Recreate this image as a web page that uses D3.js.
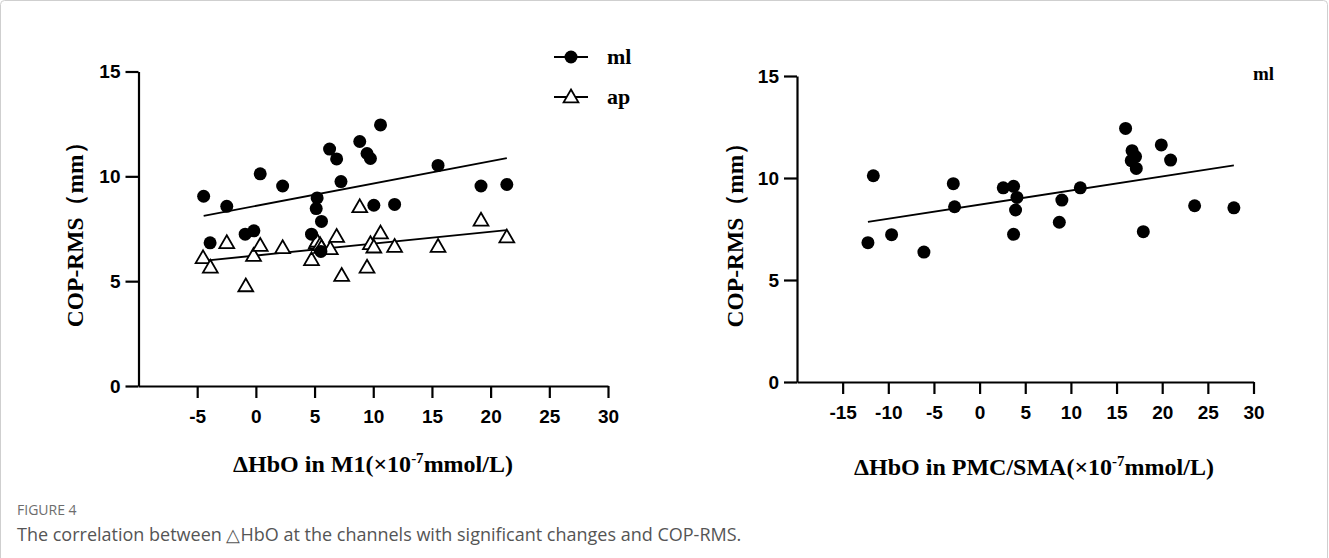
<!doctype html>
<html>
<head>
<meta charset="utf-8">
<style>
  body { margin: 0; background: #fff; }
  svg text { fill: #000; }
</style>
</head>
<body>
<svg id="fig" width="1329" height="558"></svg>
<script src="https://cdn.jsdelivr.net/npm/d3@7"></script>
<script>
// left panel: M1, ml (filled circles) and ap (open triangles)
const m1X  = [-4.45, -3.9, -2.48, -0.91, -0.17, 0.37, 2.28, 4.74, 5.14, 5.22, 5.54, 5.59,
              6.28, 6.88, 7.25, 8.85, 9.47, 9.76, 10.05, 10.62, 11.82, 15.52, 19.18, 21.38];
const m1Ml = [9.05, 6.83, 8.57, 7.24, 7.4, 10.12, 9.54, 7.24, 8.46, 8.97, 6.42, 7.85,
              11.3, 10.83, 9.75, 11.66, 11.09, 10.85, 8.62, 12.45, 8.66, 10.52, 9.54, 9.61];
const m1ApX = [-4.5, -3.88, -2.48, -0.86, -0.2, 0.37, 2.28, 4.74, 5.14, 5.22, 5.48, 5.59,
               6.34, 6.88, 7.31, 8.85, 9.47, 9.76, 10.05, 10.62, 11.82, 15.52, 19.18, 21.38];
const m1Ap = [6.11, 5.66, 6.83, 4.77, 6.22, 6.7, 6.59, 6.02, 6.81, 6.9, 6.73, 6.6,
              6.54, 7.13, 5.27, 8.54, 5.66, 6.78, 6.62, 7.29, 6.65, 6.65, 7.9, 7.1];

// right panel: PMC/SMA, ml only
const pmcX  = [-12.23, -11.64, -9.64, -6.1, -2.88, -2.74, 2.59, 3.72, 4.09, 3.94, 3.72, 8.73,
               9.01, 11.03, 15.99, 16.7, 17.08, 16.61, 17.16, 19.9, 20.92, 23.55, 27.85, 17.93];
const pmcMl = [6.83, 10.11, 7.22, 6.37, 9.72, 8.59, 9.52, 9.59, 9.05, 8.43, 7.24, 7.83,
               8.92, 9.52, 12.43, 11.34, 11.05, 10.85, 10.47, 11.62, 10.88, 8.64, 8.54, 7.37];

const m1Ticks  = [-5, 0, 5, 10, 15, 20, 25, 30];
const pmcTicks = [-15, -10, -5, 0, 5, 10, 15, 20, 25, 30];
const yTicks   = [0, 5, 10, 15];

const svg = d3.select("#fig");

// page frame
svg.append("rect")
  .attr("x", 0.5).attr("y", 0.5)
  .attr("width", 1327).attr("height", 620)
  .attr("rx", 4)
  .attr("fill", "none")
  .attr("stroke", "#cfcfcf");

const tickFont = "'Liberation Sans', Arial, sans-serif";
const serif = "'Liberation Serif', 'Times New Roman', serif";

// least squares fit, drawn over the x range of the data
function fit(xs, ys) {
  const mx = d3.mean(xs), my = d3.mean(ys);
  let sxy = 0, sxx = 0;
  xs.forEach((x, i) => { sxy += (x - mx) * (ys[i] - my); sxx += (x - mx) * (x - mx); });
  const b = sxy / sxx;
  const a = my - b * mx;
  const x0 = d3.min(xs), x1 = d3.max(xs);
  return [[x0, a + b * x0], [x1, a + b * x1]];
}

function panel(opt) {
  const x = d3.scaleLinear().domain(opt.xDomain).range(opt.xRange);
  const y = d3.scaleLinear().domain([0, 15]).range(opt.yRange);
  const g = svg.append("g");

  const xa = g.append("g")
    .attr("transform", "translate(0," + opt.yRange[0] + ")")
    .call(d3.axisBottom(x).tickValues(opt.xTicks).tickFormat(d => String(d))
      .tickSize(12).tickPadding(12).tickSizeOuter(0));
  const ya = g.append("g")
    .attr("transform", "translate(" + opt.xRange[0] + ",0)")
    .call(d3.axisLeft(y).tickValues(yTicks).tickFormat(d => String(d))
      .tickSize(13).tickPadding(5).tickSizeOuter(0));

  [xa, ya].forEach(a => {
    a.selectAll("path, line").attr("stroke", "#000").attr("stroke-width", 2.2);
    a.selectAll("text")
      .attr("font-family", tickFont)
      .attr("font-weight", "bold")
      .attr("font-size", "19px")
      .attr("fill", "#000");
  });

  // y title
  g.append("text")
    .attr("transform", "translate(" + opt.yTitleX + "," + (opt.yRange[0] + opt.yRange[1]) / 2 + ") rotate(-90)")
    .attr("text-anchor", "middle")
    .attr("dy", "0.35em")
    .attr("font-family", serif)
    .attr("font-weight", "bold")
    .attr("font-size", "23.5px")
    .text("COP-RMS（mm）");

  // x title
  const xt = g.append("text")
    .attr("x", opt.xTitleX)
    .attr("y", opt.xTitleY)
    .attr("text-anchor", "middle")
    .attr("font-family", serif)
    .attr("font-weight", "bold")
    .attr("font-size", "24px");
  xt.append("tspan").text("ΔHbO in " + opt.region + "(×10");
  xt.append("tspan").attr("dy", -9).attr("font-size", "15px").text("-7");
  xt.append("tspan").attr("dy", 9).text("mmol/L)");

  return { g, x, y };
}

function drawLine(p, xs, ys) {
  p.g.append("line")
    .datum(fit(xs, ys))
    .attr("x1", d => p.x(d[0][0])).attr("y1", d => p.y(d[0][1]))
    .attr("x2", d => p.x(d[1][0])).attr("y2", d => p.y(d[1][1]))
    .attr("stroke", "#000")
    .attr("stroke-width", 1.8);
}

const tri = d3.symbol().type(d3.symbolTriangle).size(95);

// ---- left panel
const left = panel({
  xDomain: [-10, 30], xRange: [138.5, 608], yRange: [386, 71.5],
  xTicks: m1Ticks, yTitleX: 75, xTitleX: 373, xTitleY: 472, region: "M1"
});
drawLine(left, m1X, m1Ml);
drawLine(left, m1ApX, m1Ap);

left.g.append("g").selectAll("path")
  .data(m1ApX.map((v, i) => [v, m1Ap[i]]))
  .join("path")
  .attr("d", tri)
  .attr("transform", d => "translate(" + left.x(d[0]) + "," + (left.y(d[1]) + 1) + ")")
  .attr("fill", "#fff")
  .attr("stroke", "#000")
  .attr("stroke-width", 1.8);

left.g.append("g").selectAll("circle")
  .data(m1X.map((v, i) => [v, m1Ml[i]]))
  .join("circle")
  .attr("cx", d => left.x(d[0]))
  .attr("cy", d => left.y(d[1]))
  .attr("r", 6.5)
  .attr("fill", "#000");

// legend
const lg = svg.append("g").attr("transform", "translate(571,0)");
lg.append("line").attr("x1", -17).attr("x2", 17).attr("y1", 57).attr("y2", 57)
  .attr("stroke", "#000").attr("stroke-width", 1.8);
lg.append("circle").attr("cx", 0).attr("cy", 57).attr("r", 6.5).attr("fill", "#000");
lg.append("line").attr("x1", -17).attr("x2", 17).attr("y1", 97).attr("y2", 97)
  .attr("stroke", "#000").attr("stroke-width", 1.8);
lg.append("path").attr("d", tri).attr("transform", "translate(0,98)")
  .attr("fill", "#fff").attr("stroke", "#000").attr("stroke-width", 1.8);
lg.append("text").attr("x", 36).attr("y", 64)
  .attr("font-family", serif).attr("font-weight", "bold").attr("font-size", "22px").text("ml");
lg.append("text").attr("x", 36).attr("y", 104)
  .attr("font-family", serif).attr("font-weight", "bold").attr("font-size", "22px").text("ap");

// ---- right panel
const right = panel({
  xDomain: [-20, 30], xRange: [797, 1253.5], yRange: [382, 76],
  xTicks: pmcTicks, yTitleX: 735, xTitleX: 1034, xTitleY: 475, region: "PMC/SMA"
});
drawLine(right, pmcX, pmcMl);

right.g.append("g").selectAll("circle")
  .data(pmcX.map((v, i) => [v, pmcMl[i]]))
  .join("circle")
  .attr("cx", d => right.x(d[0]))
  .attr("cy", d => right.y(d[1]))
  .attr("r", 6.5)
  .attr("fill", "#000");

svg.append("text").attr("x", 1253).attr("y", 80)
  .attr("font-family", serif).attr("font-weight", "bold").attr("font-size", "19px").text("ml");

// caption
svg.append("text").attr("x", 17).attr("y", 515)
  .attr("font-family", "'Open Sans', sans-serif").attr("font-size", "14px")
  .style("fill", "#6d6d6d").text("FIGURE 4");
svg.append("text").attr("x", 17).attr("y", 541)
  .attr("font-family", "'Open Sans', sans-serif").attr("font-size", "18px")
  .style("fill", "#555").text("The correlation between △HbO at the channels with significant changes and COP-RMS.");
</script>
</body>
</html>
